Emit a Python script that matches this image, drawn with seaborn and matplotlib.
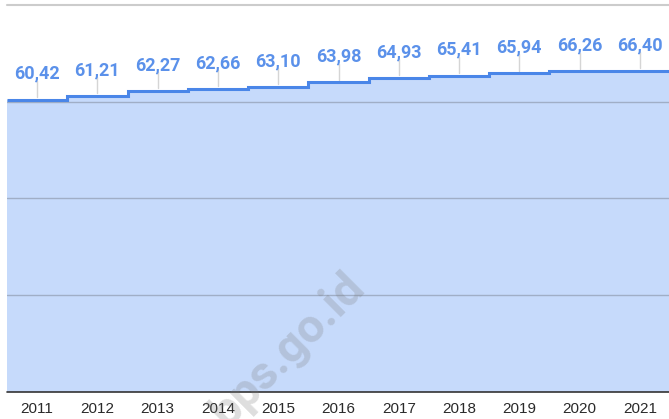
import numpy as np
import matplotlib
matplotlib.use("Agg")
import matplotlib.pyplot as plt
import seaborn as sns

# data
years = ["2011", "2012", "2013", "2014", "2015", "2016",
         "2017", "2018", "2019", "2020", "2021"]
values = [60.42, 61.21, 62.27, 62.66, 63.10, 63.98,
          64.93, 65.41, 65.94, 66.26, 66.40]
value_labels = ["60,42", "61,21", "62,27", "62,66", "63,10", "63,98",
                "64,93", "65,41", "65,94", "66,26", "66,40"]

sns.set_style("white")
plt.rcParams["font.family"] = ["Roboto", "DejaVu Sans"]

W, H = 669, 419
fig = plt.figure(figsize=(W / 100, H / 100), dpi=100)
ax = fig.add_axes([7 / W, (H - 392) / H, 663 / W, 387 / H])

pos = np.arange(len(years))
edges = np.append(pos - 0.5, pos[-1] + 0.5)

line_c = "#4a86e8"
fill_c = "#c6dafb"

ax.stairs(values, edges, fill=True, color=fill_c, zorder=1, baseline=0)
ax.stairs(values, edges, color=line_c, linewidth=2.2, zorder=4, baseline=None)

# gridlines
for g in [20, 40, 60]:
    ax.axhline(g, color="#a0aec6", linewidth=1, zorder=2)
ax.axhline(80, color="#cccccc", linewidth=1.5, zorder=2, clip_on=False)
ax.axhline(0, color="#333333", linewidth=1.2, zorder=5, clip_on=False)

# value labels with leader lines
for x, v, lab in zip(pos, values, value_labels):
    ax.plot([x, x], [v + 0.5, v + 3.9], color="#d5d5d5", linewidth=1, zorder=3)
    ax.text(x, v + 4.3, lab, ha="center", va="baseline", fontsize=13,
            fontweight="bold", color="#5b91ea", zorder=6)

ax.set_xlim(-0.5, len(years) - 0.5)
ax.set_ylim(0, 80)
ax.set_xticks(pos)
ax.set_xticklabels(years, fontsize=11, color="#2a2a2a",
                   fontfamily=["Liberation Sans", "DejaVu Sans"])
ax.tick_params(axis="x", length=0, pad=7)
ax.set_yticks([])
sns.despine(ax=ax, left=True, right=True, top=True, bottom=True)

# watermark
fig.text(288 / W, 1 - 350 / H, "bps.go.id", rotation=45, ha="center",
         va="center", fontsize=34, fontweight="bold", color="#7a7a7a",
         alpha=0.25, zorder=10)

fig.savefig("out.png", dpi=100)
